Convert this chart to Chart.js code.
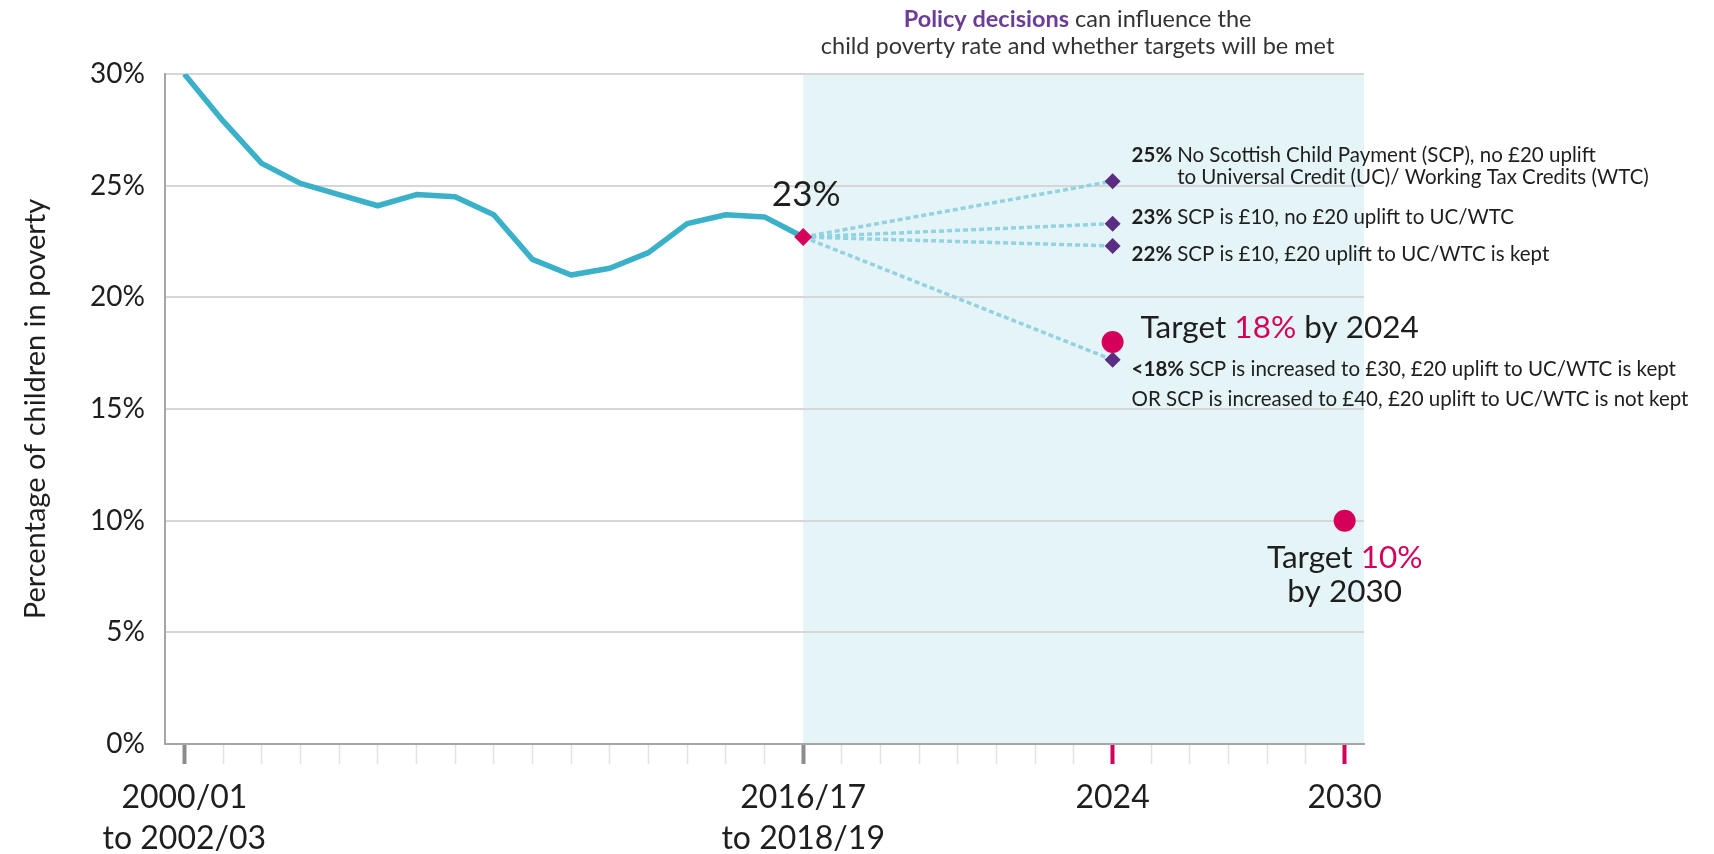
<!DOCTYPE html>
<html>
<head>
<meta charset="utf-8">
<title>Child poverty rate and targets</title>
<script src="https://cdn.jsdelivr.net/npm/chart.js@4.4.1/dist/chart.umd.min.js"></script>
<style>
    html, body { margin: 0; padding: 0; background: #fff; }
    #wrap { width: 1714px; height: 854px; }
</style>
</head>
<body>
<div id="wrap"><canvas id="povertyChart" width="1714" height="854"></canvas></div>
<script>
// three-year averages, 2000/01-2002/03 up to 2016/17-2018/19 (one step per year)
const povertyRate = [30.0, 27.9, 26.0, 25.1, 24.6, 24.1, 24.6, 24.5, 23.7, 21.7, 21.0, 21.3, 22.0, 23.3, 23.7, 23.6, 22.7];
const latestIndex = 16;

// policy scenarios for 2024
const scenarioIndex = 24;
const scenarioValues = [25.2, 23.3, 22.3, 17.2];
const scenarioShare = ['25%', '23%', '22%', '<18%'];
const scenarioText = [
    ['No Scottish Child Payment (SCP), no £20 uplift', 'to Universal Credit (UC)/ Working Tax Credits (WTC)'],
    ['SCP is £10, no £20 uplift to UC/WTC'],
    ['SCP is £10, £20 uplift to UC/WTC is kept'],
    ['SCP is increased to £30, £20 uplift to UC/WTC is kept', 'OR SCP is increased to £40, £20 uplift to UC/WTC is not kept'],
];

// targets
const targetIndex = [24, 30];
const targetValues = [18, 10];

// x axis: one tick per year, labels only on a few
const lastTick = 30;
const labelIndex = [0, 16, 24, 30];
const labelText = [['2000/01', 'to 2002/03'], ['2016/17', 'to 2018/19'], ['2024'], ['2030']];
const majorTicks = { 0: '#8c8c8c', 16: '#8c8c8c', 24: '#d4005a', 30: '#d4005a' };

const TEAL = '#3bb0c9';
const PURPLE = '#5a2d82';
const PINK = '#d4005a';
const TEXT = '#1e1e1e';
const FONT = 'Lato, "Open Sans", sans-serif';

// Text in mehreren Farben/Gewichten in einer Zeile
function drawRuns(ctx, runs, x, y, align) {
    let total = 0;
    runs.forEach(r => { ctx.font = r[1]; total += ctx.measureText(r[0]).width; });
    let cx = align === 'center' ? x - total / 2 : x;
    ctx.textAlign = 'left';
    ctx.textBaseline = 'middle';
    runs.forEach(r => {
        ctx.font = r[1];
        ctx.fillStyle = r[2];
        ctx.fillText(r[0], cx, y);
        cx += ctx.measureText(r[0]).width;
    });
}

const shadePlugin = {
    id: 'shade',
    beforeDraw(chart) {
        const { ctx, chartArea, scales } = chart;
        ctx.save();
        ctx.fillStyle = '#ffffff';
        ctx.fillRect(0, 0, chart.width, chart.height);
        const x0 = scales.x.getPixelForValue(latestIndex);
        ctx.fillStyle = '#e5f4f6';
        ctx.fillRect(x0, chartArea.top, chartArea.right - x0, chartArea.bottom - chartArea.top);
        ctx.restore();
    }
};

const notesPlugin = {
    id: 'notes',
    afterDraw(chart) {
        const { ctx, scales } = chart;
        const x = scales.x, y = scales.y;
        ctx.save();

        // header over the projection area
        const cx = (x.getPixelForValue(latestIndex) + chart.chartArea.right) / 2 - 6;
        const hf = `23.5px ${FONT}`;
        drawRuns(ctx, [['Policy decisions', `bold ${hf}`, '#6b3d98'], [' can influence the', hf, '#333']], cx, 19, 'center');
        drawRuns(ctx, [['child poverty rate and whether targets will be met', hf, '#333']], cx, 46, 'center');

        // latest value label
        drawRuns(ctx, [[`${Math.round(povertyRate[latestIndex])}%`, `35px ${FONT}`, TEXT]],
            x.getPixelForValue(latestIndex) + 3, y.getPixelForValue(povertyRate[latestIndex]) - 42, 'center');

        // scenario notes
        const sx = x.getPixelForValue(scenarioIndex) + 19;
        const nf = `20.5px ${FONT}`;
        const offsets = [[-26, -4], [-6], [8], [10, 40]];
        scenarioValues.forEach((v, i) => {
            const py = y.getPixelForValue(v);
            ctx.font = `bold ${nf}`;
            const shareW = ctx.measureText(scenarioShare[i] + ' ').width;
            drawRuns(ctx, [[scenarioShare[i] + ' ', `bold ${nf}`, TEXT], [scenarioText[i][0], nf, TEXT]], sx, py + offsets[i][0], 'left');
            if (scenarioText[i][1]) {
                const indent = i === 0 ? shareW : 0;
                drawRuns(ctx, [[scenarioText[i][1], nf, TEXT]], sx + indent, py + offsets[i][1], 'left');
            }
        });

        // target notes
        const tf = `31.5px ${FONT}`;
        const t1x = x.getPixelForValue(targetIndex[0]) + 28;
        const t1y = y.getPixelForValue(targetValues[0]) - 14;
        drawRuns(ctx, [['Target ', tf, TEXT], [`${targetValues[0]}%`, tf, PINK], [' by 2024', tf, TEXT]], t1x, t1y, 'left');

        const t2x = x.getPixelForValue(targetIndex[1]);
        const t2y = y.getPixelForValue(targetValues[1]);
        drawRuns(ctx, [['Target ', tf, TEXT], [`${targetValues[1]}%`, tf, PINK]], t2x, t2y + 37, 'center');
        drawRuns(ctx, [['by 2030', tf, TEXT]], t2x, t2y + 71, 'center');

        ctx.restore();
    }
};

const ctx = document.getElementById('povertyChart').getContext('2d');

const datasets = [];

// markers on top
datasets.push({
    data: targetIndex.map((v, i) => ({ x: v, y: targetValues[i] })),
    showLine: false,
    pointStyle: 'circle',
    pointRadius: 11,
    pointBackgroundColor: PINK,
    pointBorderWidth: 0,
    order: 0,
});
datasets.push({
    data: scenarioValues.map(v => ({ x: scenarioIndex, y: v })),
    showLine: false,
    pointStyle: 'rectRot',
    pointRadius: 8,
    pointBackgroundColor: PURPLE,
    pointBorderWidth: 0,
    order: 1,
});
datasets.push({
    data: [{ x: latestIndex, y: povertyRate[latestIndex] }],
    showLine: false,
    pointStyle: 'rectRot',
    pointRadius: 9,
    pointBackgroundColor: PINK,
    pointBorderWidth: 0,
    order: 1,
});

// dotted projection lines
scenarioValues.forEach(v => {
    datasets.push({
        data: [{ x: latestIndex, y: povertyRate[latestIndex] }, { x: scenarioIndex, y: v }],
        borderColor: '#92d2e2',
        borderWidth: 3.5,
        borderDash: [5, 3],
        pointRadius: 0,
        order: 3,
    });
});

// history line
datasets.push({
    data: povertyRate.map((v, i) => ({ x: i, y: v })),
    borderColor: TEAL,
    borderWidth: 5.5,
    pointRadius: 0,
    tension: 0,
    borderJoinStyle: 'round',
    order: 2,
});

new Chart(ctx, {
    type: 'line',
    data: { datasets },
    options: {
        responsive: false,
        animation: false,
        layout: { padding: { top: 74, right: 350, bottom: 0, left: 0 } },
        plugins: {
            legend: { display: false },
            tooltip: { enabled: false },
        },
        scales: {
            x: {
                type: 'linear',
                min: -0.5,
                max: lastTick + 0.5,
                afterFit: (scale) => { scale.height = 110; },
                afterBuildTicks: (scale) => {
                    scale.ticks = Array.from({ length: lastTick + 1 }, (_, i) => ({ value: i }));
                },
                border: { display: true, color: '#a6a6a6', width: 2 },
                grid: {
                    drawOnChartArea: false,
                    drawTicks: true,
                    tickLength: 20,
                    tickColor: (c) => majorTicks[c.tick?.value] || '#e3e3e3',
                    tickWidth: (c) => majorTicks[c.tick?.value] ? 4 : 1.5,
                },
                ticks: {
                    autoSkip: false,
                    maxRotation: 0,
                    padding: 13,
                    color: TEXT,
                    font: { family: FONT, size: 32, lineHeight: '41px' },
                    callback: (v) => {
                        const k = labelIndex.indexOf(v);
                        return k >= 0 ? labelText[k] : '';
                    },
                },
            },
            y: {
                min: 0,
                max: 30,
                afterFit: (scale) => { scale.width = 165; },
                border: { display: true, color: '#a6a6a6', width: 2 },
                grid: { color: '#d6d6d6', lineWidth: 2, drawTicks: false },
                ticks: {
                    stepSize: 5,
                    padding: 20,
                    color: TEXT,
                    font: { family: FONT, size: 28 },
                    callback: (v) => v + '%',
                },
                title: {
                    display: true,
                    text: 'Percentage of children in poverty',
                    color: TEXT,
                    font: { family: FONT, size: 29 },
                    padding: { top: 18, bottom: 0 },
                },
            },
        },
    },
    plugins: [shadePlugin, notesPlugin],
});
</script>
</body>
</html>
